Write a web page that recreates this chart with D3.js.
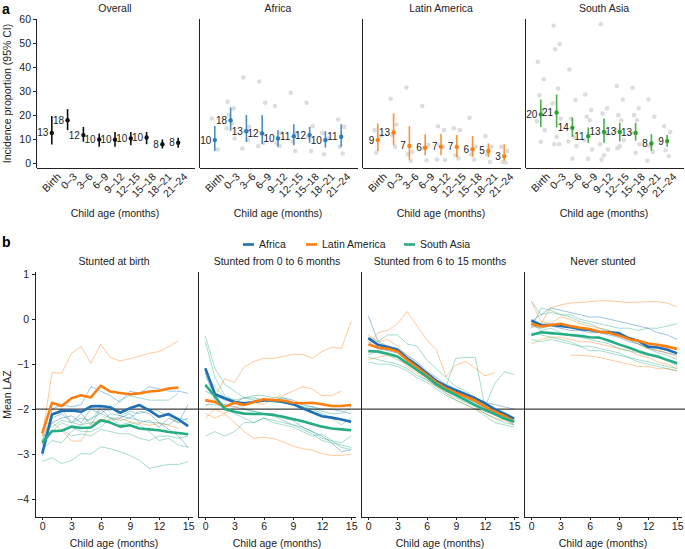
<!DOCTYPE html>
<html lang="en">
<head>
<meta charset="UTF-8">
<title>stunting incidence</title>
<script src="https://cdn.jsdelivr.net/npm/d3@7/dist/d3.min.js"></script>
<style>
    body { margin: 0; background: #fff; }
    svg { font-family: "Liberation Sans", Arial, sans-serif; }
    .axis path, .axis line { stroke: #222; shape-rendering: crispEdges; }
    .axis text { font-size: 10.5px; fill: #222; }
    .title { font-size: 10.5px; fill: #222; text-anchor: middle; }
</style>
</head>
<body>
<script>
    // ---- panel a data ----
    const ageBins = ['Birth', '0–3', '3–6', '6–9', '9–12', '12–15', '15–18', '18–21', '21–24']
    const regionNames = ['Overall', 'Africa', 'Latin America', 'South Asia']

    const overallEst = [12.6, 17.9, 11.7, 9.9, 9.8, 10.3, 10.7, 7.9, 8.5]
    const overallLo = [7.8, 13.75, 8.9, 6.8, 6.8, 7.5, 7.9, 6.1, 6.4]
    const overallHi = [19.6, 22.5, 15.1, 12.4, 13, 13, 13, 9.9, 10.6]
    const overallLab = [13, 18, 12, 10, 10, 10, 10, 8, 8]

    const africaEst = [9.6, 17.9, 13.3, 12.4, 10.3, 11.25, 11.7, 9.6, 11]
    const africaLo = [5.1, 13.5, 8.9, 7.9, 6.8, 7.5, 8.5, 6.5, 6.8]
    const africaHi = [15.5, 23.2, 20, 20, 13.75, 16.25, 15.1, 13.3, 16.25]
    const africaLab = [10, 18, 13, 12, 10, 11, 12, 10, 11]
    const africaCohorts = [[18.6, 5.7], [25.5, 22.8, 20, 16.5, 14.5, 10.3], [35.7, 15.1, 13.3, 9.6, 6.1],
        [34, 25.1, 12.6, 8.5, 7.1], [23.75, 12.6, 8.3, 7.2], [29.3, 12.6, 9.0, 5.1], [25.1, 15.4, 10.8, 5.1],
        [12.6, 10.3, 3.75], [18.2, 15.1, 6.8, 4.0]]

    const latamEst = [9.6, 12.8, 7.2, 6.4, 6.8, 6.8, 5.8, 5.1, 2.9]
    const latamLo = [5.1, 7.5, 1.5, 3.3, 3.3, 2.6, 2.6, 2.6, 1.0]
    const latamHi = [16.5, 20.7, 15.4, 12, 12.2, 11.7, 11.25, 8.2, 7.9]
    const latamLab = [9, 13, 7, 6, 7, 7, 6, 5, 3]
    const latamCohorts = [[13.75, 11.25, 4.3], [26.8, 16.1, 11.7, 6.8], [31.5, 4.7, 3.75, 1.0],
        [23.75, 7.5, 6.3, 1.25], [15.4, 13.75, 7.5, 6.8, 1.5, 1.3], [14.5, 13.75, 3.3, 2.0],
        [18.9, 6.8, 3.75, 1.5], [11.25, 6.8, 3.75, 0.5], [6.8, 5.1, 0.5, 0.3]]

    const sasiaEst = [20.3, 21.1, 14.7, 11.25, 13, 13, 12.6, 8.2, 9.2]
    const sasiaLo = [15.1, 14.9, 11, 8.5, 8.5, 9.0, 9.4, 5.1, 6.8]
    const sasiaHi = [26.5, 28.6, 19, 14.9, 18.6, 16.8, 16.8, 12.1, 11.7]
    const sasiaLab = [20, 21, 14, 11, 13, 13, 13, 8, 9]
    const sasiaCohorts = [[42.2, 34.9, 28.3, 22, 17.5, 13.75, 8.9], [57.2, 49.6, 47.4, 31.1, 24.9, 18.5, 11, 7.9, 7.9],
        [39, 26.25, 18.5, 11, 9, 7.1, 1.9], [28.6, 22.1, 19.3, 17.9, 9.6, 5.7, 1.9],
        [57.8, 22.8, 20.7, 12.6, 7.9, 5.7, 3.3, 1.5], [32.1, 26.5, 20, 17.9, 13.75, 9.6, 7.1, 6.1],
        [31.4, 22.8, 20, 17.9, 12.6, 7.9, 4.3], [26.5, 19.3, 7.1, 4.7, 1.0], [15.4, 13.0, 5.4, 2.9]]

    // ---- panel b data (mean LAZ by month) ----
    const months = [0, 1, 2, 3, 4, 5, 6, 7, 8, 9, 10, 11, 12, 13, 14, 15]
    const groupNames = ['Stunted at birth', 'Stunted from 0 to 6 months', 'Stunted from 6 to 15 months', 'Never stunted']
    const legendNames = ['Africa', 'Latin America', 'South Asia']

    const birthAfrica = [-2.99, -2.12, -2.04, -2.03, -2.06, -1.94, -1.93, -1.96, -2.08, -1.98, -1.91, -2.03, -2.17, -2.11, -2.23, -2.38]
    const birthLatam = [-2.54, -1.86, -1.93, -1.76, -1.69, -1.74, -1.48, -1.61, -1.64, -1.67, -1.65, -1.61, -1.59, -1.54, -1.52, null]
    const birthSasia = [-2.75, -2.49, -2.48, -2.39, -2.42, -2.41, -2.25, -2.30, -2.39, -2.36, -2.43, -2.45, -2.47, -2.51, -2.53, -2.56]
    const birthCohAfrica = [
        [-3.05, -2.0, -1.9, -1.95, -1.9, -1.5, -1.6, -1.7, -1.85, -1.6, -1.65, -1.5, -1.55, -1.6, -1.6, -1.65],
        [-2.7, -2.3, -2.2, -2.15, -2.3, -2.0, -2.1, -1.95, -2.15, -2.2, -2.05, -2.1, -2.3, -2.45, -2.6, -2.85],
        [-2.8, -2.2, -2.1, -2.3, -2.1, -2.35, -2.0, -2.2, -2.2, -2.1, -2.3, -2.25, -2.4, -2.2, -2.3, -1.9]]
    const birthCohLatam = [
        [-2.6, -1.19, -1.2, -0.76, -0.61, -0.98, -0.56, -0.85, -0.93, -0.88, -0.82, -0.76, -0.72, -0.61, -0.48, null],
        [-2.6, -2.3, -2.47, -2.71, -2.71, -2.32, -2.23, -2.25, -2.21, -2.28, -2.32, -2.36, -2.32, -2.36, -2.43, null]]
    const birthCohSasia = [
        [-3.17, -3.08, -3.21, -3.14, -2.99, -3.0, -2.84, -2.88, -2.95, -3.03, -3.14, -3.32, -3.27, -3.23, -3.23, -3.17],
        [-2.7, -2.1, -2.0, -2.3, -2.2, -2.25, -1.95, -2.05, -1.8, -1.7, -1.75, -1.8, -1.8, -1.8, -1.65, null],
        [-2.6, -2.5, -2.3, -2.4, -2.5, -2.5, -2.4, -2.2, -2.35, -2.3, -2.35, -2.5, -2.7, -2.65, -2.8, -2.85],
        [-2.4, -2.4, -2.25, -2.3, -2.35, -2.2, -2.1, -2.2, -2.25, -2.2, -2.25, -2.3, -2.3, -2.35, -2.2, -2.25],
        [-2.7, -2.5, -2.45, -2.6, -2.55, -2.6, -2.45, -2.5, -2.55, -2.55, -2.65, -2.7, -2.6, -2.6, -2.65, -2.6],
        [-2.9, -2.7, -2.75, -2.5, -2.35, -2.3, -2.3, -2.1, -2.15, -2.05, -2.1, -2.0, -2.05, -2.15, -2.3, -2.2]]

    const earlyAfrica = [-1.09, -1.67, -1.76, -1.84, -1.87, -1.84, -1.81, -1.81, -1.84, -1.89, -1.98, -2.07, -2.16, -2.19, -2.23, -2.28]
    const earlyLatam = [-1.8, -1.84, -1.95, -1.86, -1.91, -1.84, -1.78, -1.80, -1.81, -1.86, -1.87, -1.86, -1.89, -1.93, -1.93, -1.91]
    const earlySasia = [-1.46, -1.72, -2.0, -2.06, -2.10, -2.11, -2.11, -2.13, -2.17, -2.22, -2.27, -2.33, -2.39, -2.43, -2.45, -2.47]
    const earlyCohAfrica = [
        [-1.2, -1.8, -1.9, -1.95, -2.0, -2.05, -2.1, -2.1, -2.2, -2.25, -2.4, -2.5, -2.6, -2.75, -2.95, -2.9],
        [-1.6, -1.7, -1.8, -1.85, -1.75, -1.75, -1.8, -1.8, -1.75, -1.8, -1.9, -1.95, -2.0, -2.0, -2.05, -2.1]]
    const earlyCohLatam = [
        [-1.95, -1.72, -1.32, -1.41, -1.06, -0.94, -0.87, -0.87, -0.83, -0.78, -0.78, -0.87, -0.72, -0.62, -0.65, -0.05],
        [-2.1, -2.2, -2.1, -2.3, -2.5, -2.65, -2.63, -2.65, -2.73, -2.82, -2.88, -2.91, -2.99, -3.03, -3.03, -3.0],
        [-2.2, -2.0, -2.1, -1.95, -1.9, -1.85, -1.9, -1.75, -1.7, -1.6, -1.5, -1.55, -1.7, -1.7, -1.6, null]]
    const earlyCohSasia = [
        [-0.37, -1.1, -1.45, -1.6, -1.75, -1.8, -1.8, -1.85, -1.85, -1.9, -1.95, -2.0, -2.1, -2.2, -2.35, -2.2],
        [-0.5, -1.3, -1.7, -1.8, -2.0, -2.05, -2.1, -2.15, -2.25, -2.35, -2.4, -2.5, -2.65, -2.7, -2.75, -2.6],
        [-2.6, -2.5, -2.6, -2.5, -2.3, -2.3, -2.2, -2.25, -2.3, -2.35, -2.45, -2.55, -2.7, -2.75, -2.8, -2.85],
        [-1.9, -1.9, -1.95, -2.1, -2.2, -2.3, -2.2, -2.3, -2.35, -2.4, -2.5, -2.6, -2.55, -2.7, -2.85, -2.9],
        [-1.3, -1.5, -1.75, -1.8, -1.75, -1.7, -1.7, -1.75, -1.75, -1.85, -1.95, -1.95, -2.05, -2.1, -2.1, -1.95]]

    const lateAfrica = [-0.42, -0.57, -0.62, -0.68, -0.87, -1.02, -1.20, -1.37, -1.49, -1.58, -1.67, -1.76, -1.87, -2.0, -2.10, -2.21]
    const lateLatam = [-0.56, -0.63, -0.66, -0.72, -0.91, -1.07, -1.24, -1.41, -1.54, -1.64, -1.72, -1.81, -1.95, -2.06, -2.15, -2.28]
    const lateSasia = [-0.71, -0.72, -0.77, -0.83, -0.98, -1.13, -1.28, -1.45, -1.58, -1.69, -1.80, -1.91, -2.02, -2.11, -2.21, -2.28]
    const lateCohAfrica = [
        [0.08, -0.5, -0.6, -0.65, -0.8, -0.95, -1.15, -1.3, -1.45, -1.55, -1.65, -1.75, -1.85, -1.9, -1.95, -2.0],
        [-0.5, -0.65, -0.7, -0.75, -0.9, -1.05, -1.25, -1.4, -1.55, -1.65, -1.75, -1.85, -1.95, -2.05, -2.2, -2.35]]
    const lateCohLatam = [
        [-0.6, -0.3, -0.25, -0.1, 0.17, -0.15, -0.45, -0.68, -1.28, -1.02, -0.94, -1.09, -1.26, -1.19, null, null],
        [-0.35, -0.5, -0.45, -0.6, -0.8, -1.0, -1.2, -1.45, -1.65, -1.8, -1.9, -2.0, -2.1, -2.2, -2.25, -2.35],
        [-0.9, -0.85, -0.8, -0.85, -1.05, -1.2, -1.35, -1.5, -1.6, -1.7, -1.78, -1.85, -1.95, -2.0, -2.1, -2.2]]
    const lateCohSasia = [
        [-0.8, -0.7, -0.6, -0.7, -0.9, -1.05, -1.2, -1.35, -1.5, -0.87, -0.85, -0.85, -1.95, -1.43, -1.17, -1.23],
        [-0.4, -0.5, -0.35, -0.35, -0.55, -0.6, -0.9, -1.1, -1.3, -1.5, -1.6, -1.75, -1.9, -2.05, -2.1, -2.2],
        [-0.85, -0.9, -0.95, -1.0, -1.1, -1.25, -1.35, -1.5, -1.65, -1.75, -1.85, -1.95, -2.1, -2.2, -2.3, -2.35],
        [-0.7, -0.75, -0.8, -0.9, -1.0, -1.15, -1.3, -1.45, -1.55, -1.65, -1.75, -1.85, -2.0, -2.05, -2.15, -2.2],
        [-0.95, -1.0, -1.0, -1.05, -1.15, -1.3, -1.4, -1.55, -1.7, -1.8, -1.9, -2.0, -2.15, -2.3, -2.35, -2.4]]

    const neverAfrica = [-0.03, -0.13, -0.13, -0.15, -0.18, -0.22, -0.24, -0.28, -0.29, -0.31, -0.42, -0.48, -0.61, -0.63, -0.68, -0.76]
    const neverLatam = [-0.10, -0.16, -0.13, -0.10, -0.15, -0.19, -0.22, -0.28, -0.30, -0.36, -0.44, -0.48, -0.54, -0.57, -0.61, -0.66]
    const neverSasia = [-0.35, -0.29, -0.31, -0.33, -0.35, -0.37, -0.40, -0.41, -0.48, -0.56, -0.63, -0.71, -0.78, -0.83, -0.91, -0.98]
    const neverCohAfrica = [
        [-0.05, 0.1, 0.25, 0.2, 0.15, 0.1, 0.05, 0.05, 0.0, -0.05, -0.1, -0.15, -0.2, -0.3, -0.35, -0.45],
        [-0.15, -0.2, -0.15, -0.2, -0.25, -0.25, -0.3, -0.3, -0.35, -0.4, -0.5, -0.55, -0.65, -0.7, -0.75, -0.8]]
    const neverCohLatam = [
        [-0.2, -0.1, 0.25, 0.32, 0.36, 0.37, 0.39, 0.41, 0.41, 0.39, 0.37, 0.38, 0.39, 0.39, 0.36, 0.27],
        [null, null, null, null, -0.8, -0.8, -0.82, -0.85, -0.9, -0.95, -1.0, -1.05, -1.05, -1.1, -1.1, -1.15],
        [0.4, -0.05, -0.1, 0.05, 0.0, -0.1, -0.15, -0.2, -0.25, -0.35, -0.45, -0.55, -0.65, -0.7, -0.75, -0.85],
        [-0.55, -0.45, -0.4, -0.4, -0.45, -0.5, -0.5, -0.55, -0.6, -0.65, -0.7, -0.8, -0.85, -0.95, -1.0, -1.1]]
    const neverCohSasia = [
        [-0.2, 0.25, 0.2, 0.1, 0.1, 0.0, -0.05, -0.1, -0.15, -0.2, -0.2, -0.25, -0.2, -0.2, -0.15, -0.1],
        [-0.3, -0.35, -0.4, -0.45, -0.5, -0.6, -0.6, -0.65, -0.7, -0.75, -0.85, -0.95, -1.0, -1.05, -1.1, -1.15],
        [-0.45, -0.5, -0.45, -0.5, -0.55, -0.6, -0.7, -0.7, -0.75, -0.8, -0.85, -0.9, -0.95, -1.0, -1.05, -1.1],
        [0.4, 0.1, 0.15, 0.1, 0.05, -0.05, -0.1, -0.2, -0.25, -0.35, -0.45, -0.55, -0.65, -0.75, -0.8, -0.9],
        [-0.1, -0.25, -0.2, -0.3, -0.35, -0.4, -0.45, -0.5, -0.55, -0.65, -0.7, -0.75, -0.8, -0.85, -0.9, -1.05]]

    const width = 685
    const height = 549
    const svg = d3.select('body').append('svg').attr('width', width).attr('height', height)

    const colA = ['#111', '#2b7bba', '#ff7f0e', '#2ca02c']
    const colB = ['#1f6fb2', '#ff7f0e', '#26ad84']

    // ================= panel a =================
    const panelW = 158
    const stepX = 163
    const yA = d3.scaleLinear().domain([-2, 60]).range([168, 19])
    const jitter = [-3, 3, -1.5, 1.5, -4, 4, 0, -2.5, 2.5]

    const panelsA = [
        { est: overallEst, lo: overallLo, hi: overallHi, lab: overallLab, dots: [] },
        { est: africaEst, lo: africaLo, hi: africaHi, lab: africaLab, dots: africaCohorts },
        { est: latamEst, lo: latamLo, hi: latamHi, lab: latamLab, dots: latamCohorts },
        { est: sasiaEst, lo: sasiaLo, hi: sasiaHi, lab: sasiaLab, dots: sasiaCohorts }
    ]

    svg.append('text').attr('x', 2).attr('y', 14).attr('font-weight', 'bold').attr('font-size', 14).text('a')

    panelsA.forEach((p, k) => {
        const left = 36 + k * stepX
        const x = d3.scalePoint().domain(ageBins).range([left, left + panelW]).padding(1)
        const g = svg.append('g')

        g.append('text').attr('class', 'title').attr('x', left + panelW / 2).attr('y', 12).text(regionNames[k])

        const yAxis = d3.axisLeft(yA).tickValues(k === 0 ? [0, 10, 20, 30, 40, 50, 60] : []).tickSize(3).tickSizeOuter(0).tickPadding(2)
        g.append('g').attr('class', 'axis').attr('transform', `translate(${left},0)`).call(yAxis)
        g.select('.axis path').attr('d', `M0,${yA.range()[1]}V${yA.range()[0]}`)

        const xAxis = d3.axisBottom(x).tickSize(0).tickSizeOuter(0).tickPadding(4)
        const xg = g.append('g').attr('class', 'axis').attr('transform', `translate(0,${yA.range()[0]})`).call(xAxis)
        xg.selectAll('text').attr('text-anchor', 'end').attr('dy', '0.35em')
            .attr('transform', 'translate(4,4) rotate(-45)')

        g.append('text').attr('class', 'title')
            .attr('x', left + panelW / 2).attr('y', 217).text('Child age (months)')

        // cohort dots
        p.dots.forEach((vals, i) => {
            g.selectAll(null).data(vals).enter().append('circle')
                .attr('cx', (d, j) => x(ageBins[i]) + jitter[j % jitter.length])
                .attr('cy', d => yA(d))
                .attr('r', 2.3)
                .attr('fill', '#d4d4d4')
                .attr('fill-opacity', 0.8)
        })

        // CI
        g.selectAll(null).data(ageBins).enter().append('line')
            .attr('x1', d => x(d)).attr('x2', d => x(d))
            .attr('y1', (d, i) => yA(p.lo[i])).attr('y2', (d, i) => yA(p.hi[i]))
            .attr('stroke', colA[k]).attr('stroke-width', 1.6).attr('stroke-opacity', k === 0 ? 1 : 0.85)

        g.selectAll(null).data(ageBins).enter().append('circle')
            .attr('cx', d => x(d)).attr('cy', (d, i) => yA(p.est[i]))
            .attr('r', 2.2).attr('fill', colA[k])

        g.selectAll(null).data(ageBins).enter().append('text')
            .attr('x', d => x(d) - 3.5).attr('y', (d, i) => yA(p.est[i]))
            .attr('dy', '0.35em').attr('text-anchor', 'end')
            .attr('font-size', 10).attr('fill', '#222')
            .text((d, i) => p.lab[i])
    })

    svg.append('text').attr('class', 'title')
        .attr('transform', `translate(11,${(yA.range()[0] + yA.range()[1]) / 2}) rotate(-90)`)
        .text('Incidence proportion (95% CI)')

    // ================= panel b =================
    const yB = d3.scaleLinear().domain([-4.4, 1.05]).range([517, 272])

    svg.append('text').attr('x', 2).attr('y', 247).attr('font-weight', 'bold').attr('font-size', 14).text('b')

    // legend
    const legendX = [243, 306, 404]
    legendNames.forEach((n, i) => {
        svg.append('line').attr('x1', legendX[i]).attr('x2', legendX[i] + 11)
            .attr('y1', 244.5).attr('y2', 244.5).attr('stroke', colB[i]).attr('stroke-width', 2.6)
        svg.append('text').attr('x', legendX[i] + 16).attr('y', 244.5).attr('dy', '0.35em')
            .attr('font-size', 10.5).attr('fill', '#222').text(n)
    })

    const panelsB = [
        { means: [birthAfrica, birthLatam, birthSasia], coh: [birthCohAfrica, birthCohLatam, birthCohSasia] },
        { means: [earlyAfrica, earlyLatam, earlySasia], coh: [earlyCohAfrica, earlyCohLatam, earlyCohSasia] },
        { means: [lateAfrica, lateLatam, lateSasia], coh: [lateCohAfrica, lateCohLatam, lateCohSasia] },
        { means: [neverAfrica, neverLatam, neverSasia], coh: [neverCohAfrica, neverCohLatam, neverCohSasia] }
    ]

    panelsB.forEach((p, k) => {
        const left = 35 + k * stepX
        const x = d3.scaleLinear().domain([-0.75, 15.5]).range([left, left + panelW])
        const g = svg.append('g')
        const line = d3.line().defined(d => d[1] !== null).x(d => x(d[0])).y(d => yB(d[1]))

        g.append('text').attr('class', 'title').attr('x', left + panelW / 2).attr('y', 265).text(groupNames[k])

        const yAxis = d3.axisLeft(yB).tickValues(k === 0 ? [-4, -3, -2, -1, 0, 1] : [])
            .tickFormat(d3.format('d')).tickSize(3).tickSizeOuter(0).tickPadding(3)
        const yg = g.append('g').attr('class', 'axis').attr('transform', `translate(${left},0)`).call(yAxis)
        yg.select('path').attr('d', `M0,${yB.range()[1]}V${yB.range()[0]}`)

        const xAxis = d3.axisBottom(x).tickValues([0, 3, 6, 9, 12, 15]).tickSize(3).tickSizeOuter(0).tickPadding(3)
        const xg = g.append('g').attr('class', 'axis').attr('transform', `translate(0,${yB.range()[0]})`).call(xAxis)
        xg.select('path').attr('d', `M${left},0H${left + panelW}`)

        g.append('text').attr('class', 'title')
            .attr('x', left + panelW / 2).attr('y', 547).text('Child age (months)')

        p.coh.forEach((set, r) => {
            set.forEach(vals => {
                g.append('path').datum(months.map((m, i) => [m, vals[i]]))
                    .attr('d', line).attr('fill', 'none')
                    .attr('stroke', colB[r]).attr('stroke-width', 1).attr('stroke-opacity', 0.42)
            })
        })

        g.append('line').attr('x1', left).attr('x2', left + stepX)
            .attr('y1', yB(-2)).attr('y2', yB(-2)).attr('stroke', '#111').attr('stroke-width', 1)

        p.means.forEach((vals, r) => {
            g.append('path').datum(months.map((m, i) => [m, vals[i]]))
                .attr('d', line).attr('fill', 'none')
                .attr('stroke', colB[r]).attr('stroke-width', 2.6).attr('stroke-linejoin', 'round')
        })
    })

    svg.append('text').attr('class', 'title')
        .attr('transform', `translate(11,${(yB.range()[0] + yB.range()[1]) / 2}) rotate(-90)`)
        .text('Mean LAZ')
</script>
</body>
</html>
